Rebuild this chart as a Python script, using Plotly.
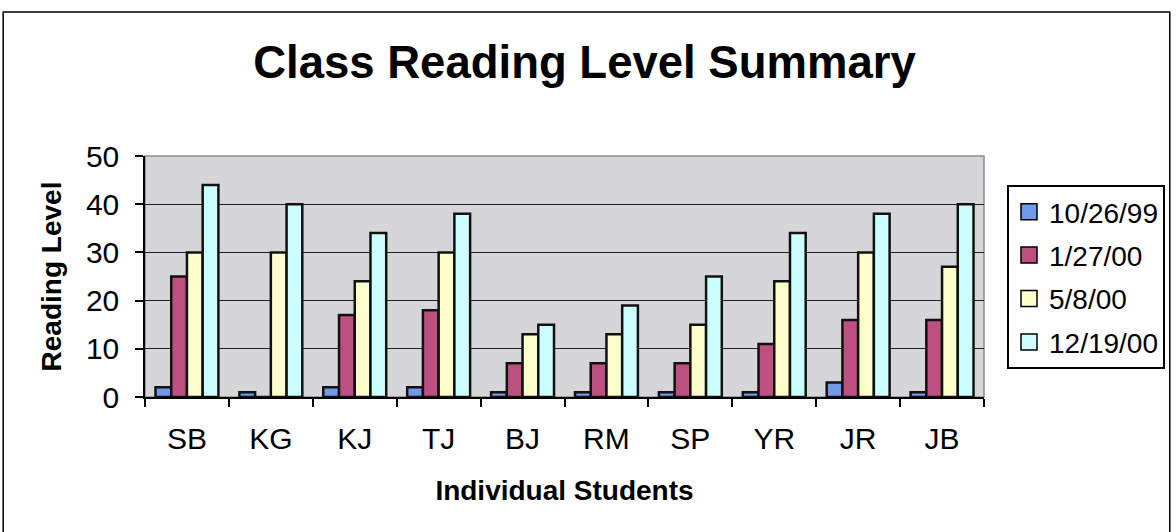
import plotly.graph_objects as go

students = ["SB", "KG", "KJ", "TJ", "BJ", "RM", "SP", "YR", "JR", "JB"]
dates = ["10/26/99", "1/27/00", "5/8/00", "12/19/00"]
lvl_oct99 = [2, 1, 2, 2, 1, 1, 1, 1, 3, 1]
lvl_jan00 = [25, 0, 17, 18, 7, 7, 7, 11, 16, 16]
lvl_may00 = [30, 30, 24, 30, 13, 13, 15, 24, 30, 27]
lvl_dec00 = [44, 40, 34, 38, 15, 19, 25, 34, 38, 40]
y_ticks = [0, 10, 20, 30, 40, 50]

series = [lvl_oct99, lvl_jan00, lvl_may00, lvl_dec00]
colors = ["#7099ea", "#bd5080", "#ffffcc", "#ccffff"]

FONT = "Liberation Sans, Arial, sans-serif"

fig = go.Figure()
for name, vals, col in zip(dates, series, colors):
    fig.add_trace(go.Bar(
        x=students, y=vals, name=name, showlegend=False,
        marker=dict(color=col, line=dict(color="#111111", width=2.5)),
    ))
# legend entries with larger square swatches
for name, col in zip(dates, colors):
    fig.add_trace(go.Scatter(
        x=[None], y=[None], mode="markers", name=name, legendgroup=name,
        marker=dict(symbol="square", size=19, color=col,
                    line=dict(color="black", width=1.5)),
    ))

L, R, T, B = 145, 191, 156, 135
W, H = 1176, 532
pw, ph = W - L - R, H - T - B

def px(x):
    return (x - L) / pw

def py(y):
    return (H - B - y) / ph

fig.update_layout(
    width=W, height=H,
    margin=dict(l=L, r=R, t=T, b=B),
    paper_bgcolor="white",
    plot_bgcolor="#d6d6d8",
    barmode="group", bargap=0.25, bargroupgap=0,
    font=dict(family=FONT, color="black", size=26),
    title=dict(text="<b>Class Reading Level Summary</b>", x=0.497, xref="container",
               y=1 - 62 / H, yref="container", yanchor="middle", xanchor="center",
               font=dict(size=45.5, family=FONT, color="black")),
    legend=dict(x=px(1007), y=py(185), xanchor="left", yanchor="top",
                bgcolor="white", bordercolor="black", borderwidth=2,
                font=dict(size=28, family=FONT), tracegroupgap=4,
                traceorder="grouped", itemsizing="trace"),
    xaxis=dict(
        showline=True, linecolor="black", linewidth=1.5,
        ticks="outside", ticklen=8, tickcolor="black", tickwidth=1.5,
        tickson="boundaries", showgrid=False,
        tickfont=dict(size=30), ticklabelstandoff=14,
        title=dict(text="<b>Individual Students</b>", font=dict(size=28), standoff=27),
    ),
    yaxis=dict(
        range=[0, 50], tickvals=y_ticks,
        showline=True, linecolor="black", linewidth=1.5,
        ticks="outside", ticklen=8, tickcolor="black", tickwidth=1.5,
        showgrid=True, gridcolor="#222222", gridwidth=1.3,
        zeroline=False,
        tickfont=dict(size=30), ticklabelstandoff=10,
        title=dict(text="<b>Reading Level</b>", font=dict(size=28), standoff=16),
    ),
    shapes=[
        dict(type="rect", xref="paper", yref="paper", x0=0, x1=1, y0=0, y1=1,
             line=dict(color="#8a8a8a", width=1.5), layer="below"),
        dict(type="rect", xref="paper", yref="paper",
             x0=px(3), x1=px(1171), y0=py(560), y1=py(12),
             line=dict(color="black", width=1.5)),
    ],
)

fig.write_html("out.html", config={"displayModeBar": False},
               post_script="document.body.style.margin='0';")
